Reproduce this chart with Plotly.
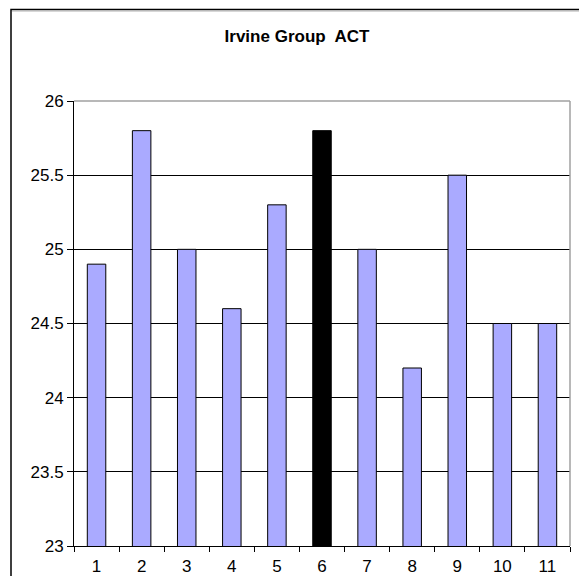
import plotly.graph_objects as go

categories = ["1", "2", "3", "4", "5", "6", "7", "8", "9", "10", "11"]
act_scores = [24.9, 25.8, 25.0, 24.6, 25.3, 25.8, 25.0, 24.2, 25.5, 24.5, 24.5]
highlight_index = 5
title_text = "<b>Irvine Group  ACT</b>"
y_ticks = [23, 23.5, 24, 24.5, 25, 25.5, 26]

colors = ["#AAAAFF"] * len(categories)
colors[highlight_index] = "#000000"

FONT = "Liberation Sans, Arial, sans-serif"

fig = go.Figure()
fig.add_trace(go.Bar(
    x=categories, y=act_scores,
    marker=dict(color=colors, line=dict(color="#000000", width=1)),
    base=0,
))

fig.update_layout(
    width=579, height=576,
    margin=dict(l=74, r=9, t=101, b=30, autoexpand=False),
    paper_bgcolor="white", plot_bgcolor="white",
    bargap=0.59,
    showlegend=False,
    font=dict(family=FONT, size=17, color="black"),
    title=dict(text=title_text, x=297 / 579, xanchor="center",
               y=1 - 36 / 576, yanchor="middle",
               font=dict(family=FONT, size=17, color="black")),
)
fig.update_xaxes(
    type="category", showline=True, linecolor="black", linewidth=1,
    ticks="outside", tickson="boundaries", ticklen=5, tickcolor="black",
    showgrid=False, tickfont=dict(size=17), ticklabelstandoff=5,
    automargin=False,
)
fig.update_yaxes(
    range=[23, 26], tickvals=y_ticks, ticktext=[f"{v:g}" for v in y_ticks],
    showline=True, linecolor="black", linewidth=1,
    ticks="outside", ticklen=6, tickcolor="black",
    showgrid=True, gridcolor="black", gridwidth=1,
    zeroline=False, tickfont=dict(size=17), automargin=False,
)

# plot-area border (gray top/right)
fig.add_shape(type="line", xref="paper", yref="paper", x0=0, x1=1, y0=1, y1=1,
              line=dict(color="#A0A0A0", width=1.5), layer="above")
fig.add_shape(type="line", xref="paper", yref="paper", x0=1, x1=1, y0=0, y1=1,
              line=dict(color="#A0A0A0", width=1.5), layer="above")

# chart area border (extends past the right and bottom edges)
W, L, T, H = 496, 74, 101, 445
def px_x(p):
    return (p - L) / W
def px_y(p):
    return (T + H - p) / H
fig.add_shape(type="rect", xref="paper", yref="paper",
              x0=px_x(11), x1=px_x(600), y0=px_y(9.5), y1=px_y(600),
              line=dict(color="black", width=1.5), fillcolor="rgba(0,0,0,0)", layer="above")
fig.add_shape(type="line", xref="paper", yref="paper",
              x0=px_x(12), x1=px_x(600), y0=px_y(11), y1=px_y(11),
              line=dict(color="#B0B0B0", width=1), layer="above")

fig.write_html("out.html", config={"displayModeBar": False},
               post_script="document.body.style.margin='0';document.body.style.overflow='hidden';")
